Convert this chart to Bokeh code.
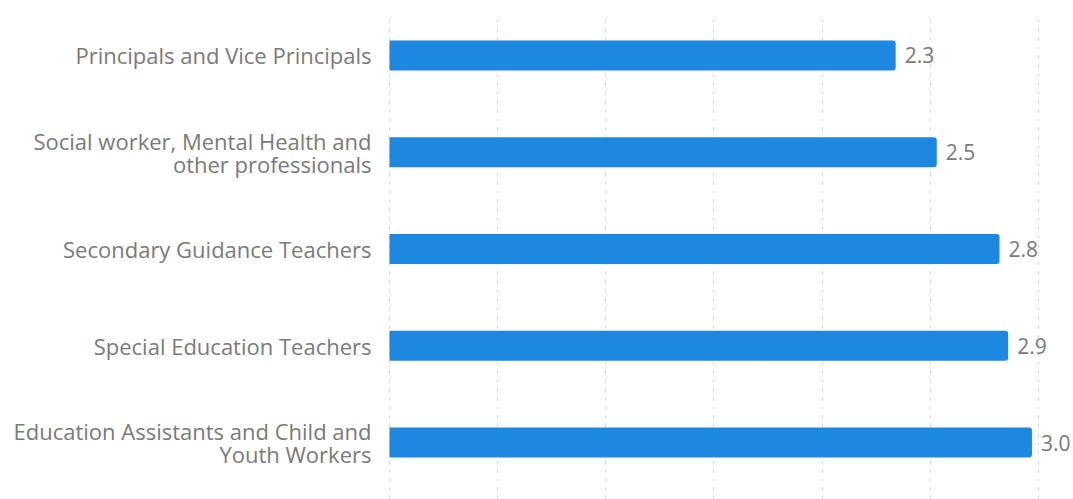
from bokeh.plotting import figure
from bokeh.models import Range1d, FixedTicker, ColumnDataSource
from bokeh.embed import file_html
from bokeh.resources import INLINE
from bokeh.core.properties import value

categories = [
    "Principals and Vice Principals",
    "Social worker, Mental Health and\nother professionals",
    "Secondary Guidance Teachers",
    "Special Education Teachers",
    "Education Assistants and Child and\nYouth Workers",
]
values = [2.34, 2.53, 2.82, 2.86, 2.97]
grid_ticks = [0, 0.5, 1.0, 1.5, 2.0, 2.5, 3.0]

n = len(categories)
pos = [n - 1 - i for i in range(n)]
labels = [f"{v:.1f}" for v in values]

src = ColumnDataSource(dict(y=pos, v=values, lab=labels))

px_per_unit = 216.0
p = figure(width=1073, height=499, output_backend="svg", toolbar_location=None,
           x_range=Range1d(-1 / px_per_unit, 3.0 + 35 / px_per_unit),
           y_range=Range1d(-0.589, 4.434),
           min_border_left=388, min_border_right=0, min_border_top=13, min_border_bottom=0)
p.outline_line_color = None
p.background_fill_color = "white"
p.border_fill_color = "white"

p.hbar(y="y", right="v", left=0, height=0.31, source=src, fill_color="#1e88e0",
       line_color=None, border_radius=(0, 3, 3, 0))
p.text(x="v", y="y", text="lab", source=src, x_offset=9, text_baseline="middle",
       text_align="left", text_color="#7a7a7a", text_font=value("Open Sans"),
       text_font_size="21px")

p.xaxis.visible = False
p.xaxis.ticker = FixedTicker(ticks=grid_ticks)
p.xgrid.ticker = FixedTicker(ticks=grid_ticks)
p.xgrid.grid_line_color = "#d4d4d4"
p.xgrid.grid_line_dash = "3 6"
p.xgrid.grid_line_width = 1
p.ygrid.visible = False

yax = p.yaxis[0]
yax.ticker = FixedTicker(ticks=pos)
yax.major_label_overrides = {pos[i]: categories[i] for i in range(n)}
yax.axis_line_color = None
yax.major_tick_line_color = None
yax.minor_tick_line_color = None
yax.major_label_standoff = 11
yax.major_label_text_font = "Open Sans"
yax.major_label_text_font_size = "22px"
yax.major_label_text_line_height = 0.77
yax.major_label_text_color = "#7a7a7a"
yax.major_label_text_align = "right"

open("out.html", "w").write(file_html(p, INLINE))
